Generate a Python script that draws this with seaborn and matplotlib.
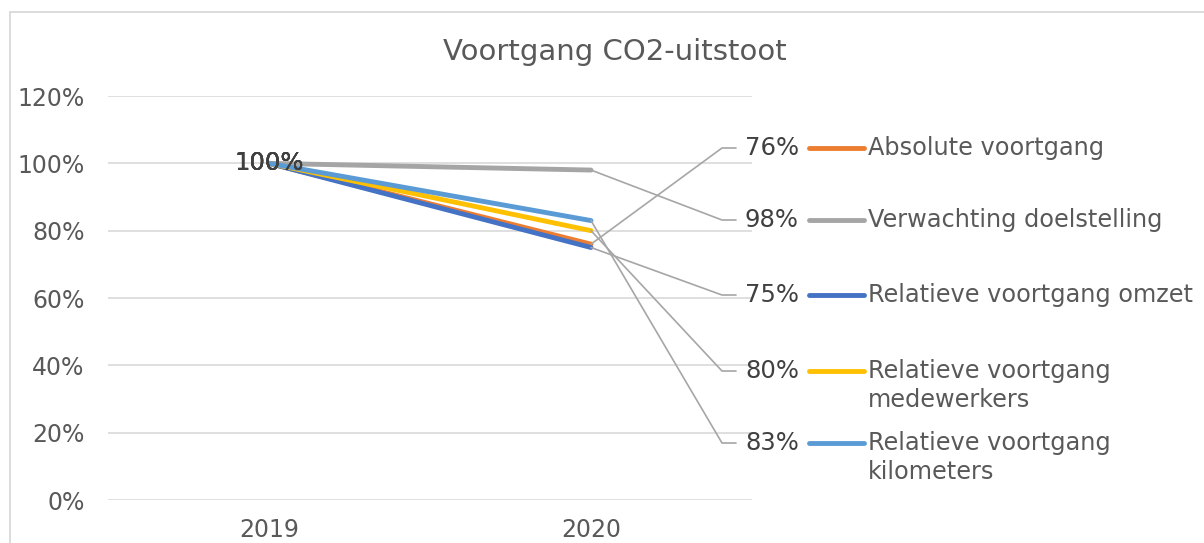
import matplotlib.pyplot as plt
from matplotlib.lines import Line2D
from matplotlib.patches import Rectangle
import pandas as pd
import seaborn as sns

# Chart data (fractions of 2019 emissions)
years = ['2019', '2020']
series_names = ['Absolute voortgang', 'Verwachting doelstelling',
                'Relatieve voortgang omzet', 'Relatieve voortgang medewerkers',
                'Relatieve voortgang kilometers']
absolute = [1.00, 0.76]
verwachting = [1.00, 0.98]
omzet = [1.00, 0.75]
medewerkers = [1.00, 0.80]
kilometers = [1.00, 0.83]
legend_names = ['Absolute voortgang', 'Verwachting doelstelling',
                'Relatieve voortgang omzet', 'Relatieve voortgang\nmedewerkers',
                'Relatieve voortgang\nkilometers']
colors = ['#ED7D31', '#A5A5A5', '#4472C4', '#FFC000', '#5B9BD5']

# Row positions (pixels from top) for data labels and legend
row_y = [148, 220, 295, 371, 443]

W, H = 1204, 543
sns.set_style('white')
plt.rcParams['font.family'] = ['DejaVu Sans']

values = [absolute, verwachting, omzet, medewerkers, kilometers]
df = pd.DataFrame({
    'jaar': years * len(series_names),
    'reeks': [s for s in series_names for _ in years],
    'waarde': [v for vals in values for v in vals],
})

fig = plt.figure(figsize=(W / 100, H / 100), dpi=100)
ax = fig.add_axes([108 / W, 1 - 500 / H, (752 - 108) / W, (500 - 96) / H])

sns.lineplot(data=df, x='jaar', y='waarde', hue='reeks', hue_order=series_names,
             palette=colors, linewidth=3.5, errorbar=None, legend=False, ax=ax,
             solid_capstyle='round')

ax.set_xlim(-0.5, 1.5)
ax.set_ylim(0, 1.2)
ax.set_yticks([0, 0.2, 0.4, 0.6, 0.8, 1.0, 1.2])
ax.set_yticklabels(['0%', '20%', '40%', '60%', '80%', '100%', '120%'])
ax.yaxis.grid(True, color='#D9D9D9', linewidth=1.2)
ax.set_axisbelow(True)
for sp in ax.spines.values():
    sp.set_visible(False)
ax.tick_params(axis='y', length=0, pad=17, labelsize=17, labelcolor='#595959')
ax.tick_params(axis='x', length=0, pad=13, labelsize=17, labelcolor='#595959')
ax.set_xlabel('')
ax.set_ylabel('')

# 2019 data labels (all at 100%)
for vals in values:
    ax.text(0, vals[0], '{:.0%}'.format(vals[0]), ha='center', va='center',
            fontsize=17.5, color='#404040', zorder=5)

# 2020 data labels with leader lines
to_fig = fig.transFigure.inverted()
for vals, ry in zip(values, row_y):
    px, py = ax.transData.transform((1, vals[1]))
    x0, y0 = to_fig.transform((px, py))
    fy = 1 - ry / H
    fig.add_artist(Line2D([x0, 722 / W, 736 / W], [y0, fy, fy],
                          color='#A6A6A6', linewidth=1.2))
    fig.text(799 / W, fy, '{:.0%}'.format(vals[1]), ha='right', va='center',
             fontsize=17.5, color='#404040')

# Legend drawn to the right
for name, col, ry in zip(legend_names, colors, row_y):
    fy = 1 - ry / H
    fig.add_artist(Line2D([809 / W, 864 / W], [fy, fy], color=col,
                          linewidth=3.5, solid_capstyle='round'))
    for i, line in enumerate(name.split('\n')):
        fig.text(868 / W, 1 - (ry + 29 * i) / H, line, ha='left', va='center',
                 fontsize=17.3, color='#595959')

fig.text(615 / W, 1 - 52 / H, 'Voortgang CO2-uitstoot', ha='center', va='center',
         fontsize=21, color='#595959')

# Chart area border
fig.add_artist(Rectangle((10 / W, -0.1), 1.2, 1 - 12 / H + 0.1,
                         transform=fig.transFigure, fill=False,
                         edgecolor='#D9D9D9', linewidth=1.3))

fig.savefig('out.png', dpi=100)
